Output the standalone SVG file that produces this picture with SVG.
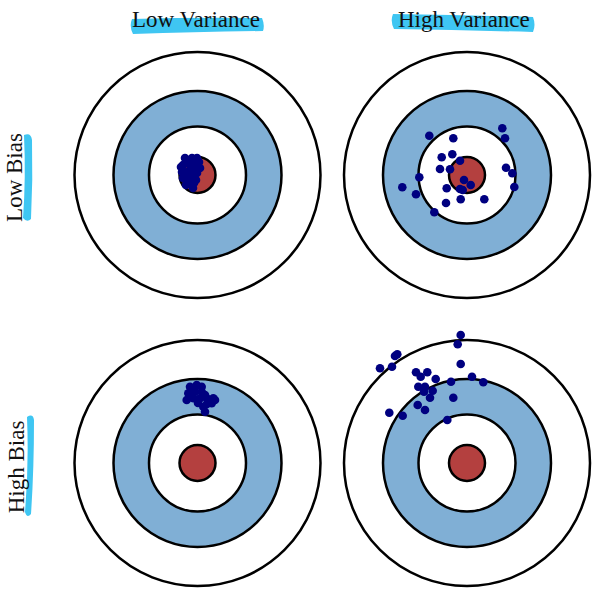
<svg xmlns="http://www.w3.org/2000/svg" width="612" height="610" viewBox="0 0 612 610">
<style>
.ring{stroke:#000;stroke-width:2.5}
.outer{fill:#fff}
.blue{fill:#80afd5}
.white{fill:#fff}
.red{fill:#b4403f}
.dot{fill:#000080}
.lbl{font-family:"Liberation Serif","Times New Roman",serif;font-size:23px;fill:#111}
.hl{fill:#3fc6f2}
</style>
<defs>
<g id="target">
<circle class="ring outer" r="123"/>
<circle class="ring blue" r="84"/>
<circle class="ring white" r="48.5"/>
<circle class="ring red" r="18"/>
</g>
</defs>
<rect width="612" height="610" fill="#fff"/>
<g id="labels">
<path class="hl" d="M132,19 Q196,17 262,18 Q265,25 263,31 Q196,32 133,34 Q129,26 132,19 Z"/>
<text class="lbl" x="132" y="27">Low Variance</text>
<path class="hl" d="M393,14 Q462,15 533,17 Q536,25 533,32 Q462,30 394,29 Q390,21 393,14 Z"/>
<text class="lbl" x="398" y="27">High Variance</text>
<path class="hl" d="M24,135 Q31,132 32,140 Q33,180 31,219 Q27,223 23,218 Q26,178 24,135 Z"/>
<text class="lbl" transform="translate(22,177.5) rotate(-90)" text-anchor="middle">Low Bias</text>
<path class="hl" d="M27,417 Q33,413 34,420 Q34,470 31,514 Q27,519 25,512 Q29,465 27,417 Z"/>
<text class="lbl" transform="translate(24,467) rotate(-90)" text-anchor="middle">High Bias</text>
</g>
<g id="target-low-bias-low-variance">
<use href="#target" x="197.5" y="175"/>
<g>
<circle class="dot" cx="185" cy="158" r="4.3"/><circle class="dot" cx="192" cy="158" r="4.3"/><circle class="dot" cx="197" cy="158" r="4.3"/>
<circle class="dot" cx="183" cy="165" r="4.3"/><circle class="dot" cx="190" cy="165" r="4.3"/><circle class="dot" cx="195" cy="165" r="4.3"/>
<circle class="dot" cx="182" cy="172" r="4.3"/><circle class="dot" cx="187" cy="172" r="4.3"/><circle class="dot" cx="193" cy="170" r="4.3"/>
<circle class="dot" cx="183" cy="178" r="4.3"/><circle class="dot" cx="188" cy="178" r="4.3"/><circle class="dot" cx="197" cy="173" r="4.3"/>
<circle class="dot" cx="190" cy="183" r="4.3"/><circle class="dot" cx="193" cy="188" r="4.3"/>
<circle class="dot" cx="199" cy="162" r="4.3"/><circle class="dot" cx="186" cy="185" r="4.3"/><circle class="dot" cx="181" cy="167" r="4.3"/>
<circle class="dot" cx="200" cy="168" r="4.3"/><circle class="dot" cx="186" cy="162" r="4.3"/><circle class="dot" cx="196" cy="180" r="4.3"/>
<circle class="dot" cx="191" cy="175" r="4.3"/><circle class="dot" cx="194" cy="183" r="4.3"/>
</g>
</g>
<g id="target-low-bias-high-variance">
<use href="#target" x="467" y="175"/>
<g>
<circle class="dot" cx="429.3" cy="135.7" r="4.3"/><circle class="dot" cx="453.3" cy="138.3" r="4.3"/><circle class="dot" cx="502.3" cy="128.3" r="4.3"/>
<circle class="dot" cx="505" cy="138.3" r="4.3"/><circle class="dot" cx="441.7" cy="157.3" r="4.3"/><circle class="dot" cx="452.3" cy="154.3" r="4.3"/>
<circle class="dot" cx="460" cy="160.7" r="4.3"/><circle class="dot" cx="440" cy="169" r="4.3"/><circle class="dot" cx="450" cy="169.3" r="4.3"/>
<circle class="dot" cx="419.3" cy="177.3" r="4.3"/><circle class="dot" cx="506" cy="167.7" r="4.3"/><circle class="dot" cx="512.3" cy="173.3" r="4.3"/>
<circle class="dot" cx="402.3" cy="187.3" r="4.3"/><circle class="dot" cx="416" cy="194.3" r="4.3"/><circle class="dot" cx="446.7" cy="188.3" r="4.3"/>
<circle class="dot" cx="464" cy="180" r="4.3"/><circle class="dot" cx="470.7" cy="185" r="4.3"/><circle class="dot" cx="460" cy="189" r="4.3"/>
<circle class="dot" cx="462.7" cy="190" r="4.3"/><circle class="dot" cx="514.3" cy="187" r="4.3"/><circle class="dot" cx="446" cy="203" r="4.3"/>
<circle class="dot" cx="460.7" cy="199.3" r="4.3"/><circle class="dot" cx="484.3" cy="199.3" r="4.3"/><circle class="dot" cx="434.3" cy="212.3" r="4.3"/>
</g>
</g>
<g id="target-high-bias-low-variance">
<use href="#target" x="197.5" y="463"/>
<g>
<circle class="dot" cx="190" cy="386.7" r="4.3"/><circle class="dot" cx="196.7" cy="385" r="4.3"/><circle class="dot" cx="201.7" cy="386.7" r="4.3"/>
<circle class="dot" cx="188.3" cy="393.3" r="4.3"/><circle class="dot" cx="195" cy="391.7" r="4.3"/><circle class="dot" cx="201.7" cy="391.7" r="4.3"/>
<circle class="dot" cx="205" cy="395" r="4.3"/><circle class="dot" cx="186.7" cy="400" r="4.3"/><circle class="dot" cx="193.3" cy="398.3" r="4.3"/>
<circle class="dot" cx="200" cy="398.3" r="4.3"/><circle class="dot" cx="206.7" cy="398.3" r="4.3"/><circle class="dot" cx="213.3" cy="398.3" r="4.3"/>
<circle class="dot" cx="211.7" cy="403.3" r="4.3"/><circle class="dot" cx="203.3" cy="406.7" r="4.3"/><circle class="dot" cx="205" cy="411.7" r="4.3"/>
<circle class="dot" cx="215" cy="400" r="4.3"/><circle class="dot" cx="207" cy="404" r="4.3"/><circle class="dot" cx="198" cy="403" r="4.3"/>
</g>
</g>
<g id="target-high-bias-high-variance">
<use href="#target" x="467" y="463"/>
<g>
<circle class="dot" cx="460.7" cy="335" r="4.3"/><circle class="dot" cx="457.7" cy="344.3" r="4.3"/><circle class="dot" cx="395" cy="356" r="4.3"/>
<circle class="dot" cx="397.3" cy="354.3" r="4.3"/><circle class="dot" cx="380" cy="368.3" r="4.3"/><circle class="dot" cx="392" cy="366.7" r="4.3"/>
<circle class="dot" cx="460.7" cy="364" r="4.3"/><circle class="dot" cx="416" cy="372.3" r="4.3"/><circle class="dot" cx="420.7" cy="376.7" r="4.3"/>
<circle class="dot" cx="427.3" cy="372.3" r="4.3"/><circle class="dot" cx="435.7" cy="379" r="4.3"/><circle class="dot" cx="418.3" cy="386.7" r="4.3"/>
<circle class="dot" cx="425" cy="386.7" r="4.3"/><circle class="dot" cx="424" cy="391.7" r="4.3"/><circle class="dot" cx="432.7" cy="390.7" r="4.3"/>
<circle class="dot" cx="451" cy="381.7" r="4.3"/><circle class="dot" cx="472" cy="376.7" r="4.3"/><circle class="dot" cx="483.3" cy="382.3" r="4.3"/>
<circle class="dot" cx="430" cy="397.7" r="4.3"/><circle class="dot" cx="453.3" cy="397.7" r="4.3"/><circle class="dot" cx="417.7" cy="405" r="4.3"/>
<circle class="dot" cx="425" cy="410" r="4.3"/><circle class="dot" cx="389.3" cy="412.7" r="4.3"/><circle class="dot" cx="402.7" cy="415.7" r="4.3"/>
<circle class="dot" cx="447.3" cy="420" r="4.3"/>
</g>
</g>
</svg>
